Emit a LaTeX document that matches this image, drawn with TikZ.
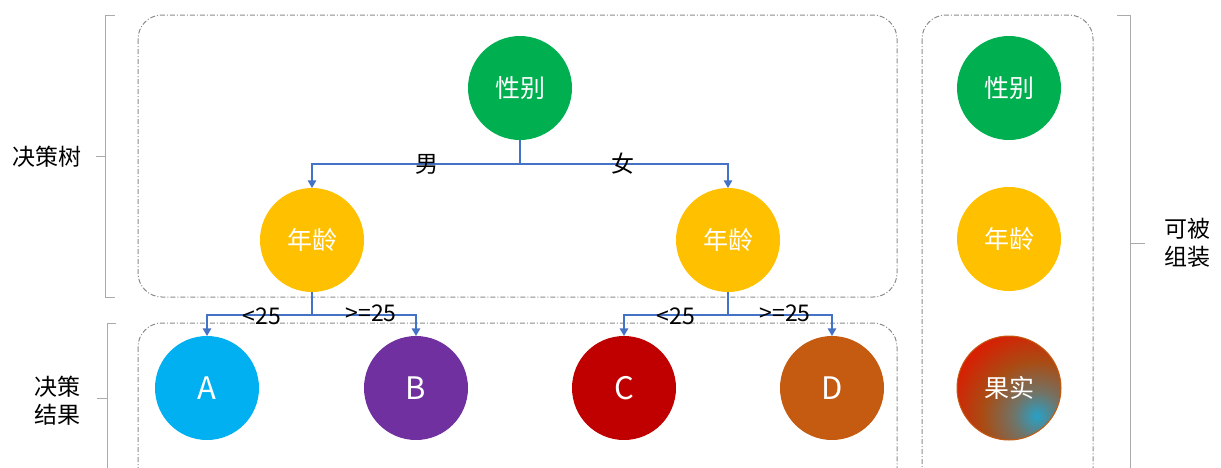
\documentclass[tikz,border=0pt]{standalone}
\usepackage{fontspec}
\setmainfont{Noto Sans CJK SC}
\usepackage{xcolor}
\definecolor{gris}{RGB}{140,140,140}
\definecolor{grisClaro}{RGB}{170,170,170}
\definecolor{azulLinea}{RGB}{68,114,196}
\definecolor{verde}{RGB}{0,176,80}
\definecolor{amarillo}{RGB}{255,192,0}
\definecolor{azulCielo}{RGB}{0,176,240}
\definecolor{morado}{RGB}{112,48,160}
\definecolor{rojoOscuro}{RGB}{192,0,0}
\definecolor{naranjaOscuro}{RGB}{197,90,17}
\definecolor{rojo}{RGB}{235,15,0}
\usepackage{tikz}
\usetikzlibrary{arrows.meta,shapes,calc,positioning}
\pgfdeclareradialshading{fruta}{\pgfpoint{0bp}{0bp}}{%
    rgb(0bp)=(0.16,0.63,0.78); rgb(4bp)=(0.45,0.45,0.40);
    rgb(9bp)=(0.66,0.30,0.08); rgb(15bp)=(0.85,0.12,0.01);
    rgb(20bp)=(0.93,0.05,0); rgb(50bp)=(0.93,0.05,0)}
\tikzstyle{edge}  =[draw=azulLinea, line width=0.7pt,
                    -{Triangle[length=3.8pt,width=4.2pt]}]
\tikzstyle{trunk} =[draw=azulLinea, line width=0.7pt]
\tikzstyle{vertex}=[circle, minimum size=52pt, inner sep=0pt,
                    outer sep=0pt, text=white,
                    font=\fontsize{12.5}{15}\selectfont]
\tikzstyle{letra} =[font=\fontsize{15.5}{18}\selectfont]
\tikzstyle{caja}  =[draw=gris, line width=0.5pt, rounded corners=12pt,
                    dash pattern=on 2.5pt off 1pt on 0.5pt off 1pt]
\tikzstyle{llave} =[draw=grisClaro, line width=0.5pt]
\tikzstyle{rama}  =[inner sep=0pt, font=\fontsize{11.5}{13}\selectfont]
\tikzstyle{titulo}=[inner sep=0pt, align=center,
                    font=\fontsize{11.5}{14}\selectfont]

\begin{document}
\begin{tikzpicture}[x=0.5pt,y=-0.5pt]
    \clip (0,0) rectangle (1221,467);

        % cajas
        \draw[caja] (138,15) rectangle (897,297);
        \draw[caja] (138,323) rectangle (897,500);
        \draw[caja] (922,15) rectangle (1093,500);

        % llaves
        \draw[llave] (115,15) -- (105,15) -- (105,297) -- (115,297);
        \draw[llave] (105,156) -- (96,156);
        \draw[llave] (116,323) -- (107,323) -- (107,500);
        \draw[llave] (107,398) -- (97,398);
        \draw[llave] (1117,15) -- (1130,15) -- (1130,500);
        \draw[llave] (1130,243) -- (1145,243);

        \draw (47,157) node (arbol) [titulo] {决策树};
        \draw (57,401) node (resultado) [titulo] {决策\\结果};
        \draw (1187,243) node (montaje) [titulo] {可被\\组装};

        % arbol
        \draw (520,88) node (sexo) [vertex, fill=verde] {性别};
        \draw (312,240) node (edad1) [vertex, fill=amarillo] {年龄};
        \draw (728,240) node (edad2) [vertex, fill=amarillo] {年龄};
        \draw (207,388) node (A) [vertex, letra, fill=azulCielo] {A};
        \draw (416,388) node (B) [vertex, letra, fill=morado] {B};
        \draw (624,388) node (C) [vertex, letra, fill=rojoOscuro] {C};
        \draw (832,388) node (D) [vertex, letra, fill=naranjaOscuro] {D};

        \coordinate (s0) at (520,164);
        \coordinate (s1) at (312,315);
        \coordinate (s2) at (728,315);

        \foreach \i/\p in {sexo/s0,edad1/s1,edad2/s2}
            \draw [trunk] (\i) -- (\p);
        \foreach \p/\j in {s0/edad1,s0/edad2,s1/A,s1/B,s2/C,s2/D}
            \draw [edge] (\p) -| (\j);

        \draw (427,164) node (hombre) [titulo] {男};
        \draw (623,164) node (mujer) [titulo] {女};
        \draw (262,316) node (menor1) [rama] {<25};
        \draw (371,313) node (mayor1) [rama] {>=25};
        \draw (676,316) node (menor2) [rama] {<25};
        \draw (785,313) node (mayor2) [rama] {>=25};

        % piezas
        \draw (1009,88) node (sexo3) [vertex, fill=verde] {性别};
        \draw (1009,239) node (edad3) [vertex, fill=amarillo] {年龄};
        \draw (1009,388) node (fruto) [vertex, fill=rojo, draw=naranjaOscuro,
            line width=0.5pt,
            path picture={\shade[shading=fruta]
                ($(path picture bounding box.south east)+(-24,-24)$) circle (150);}]
            {果实};

    \end{tikzpicture}
\end{document}
